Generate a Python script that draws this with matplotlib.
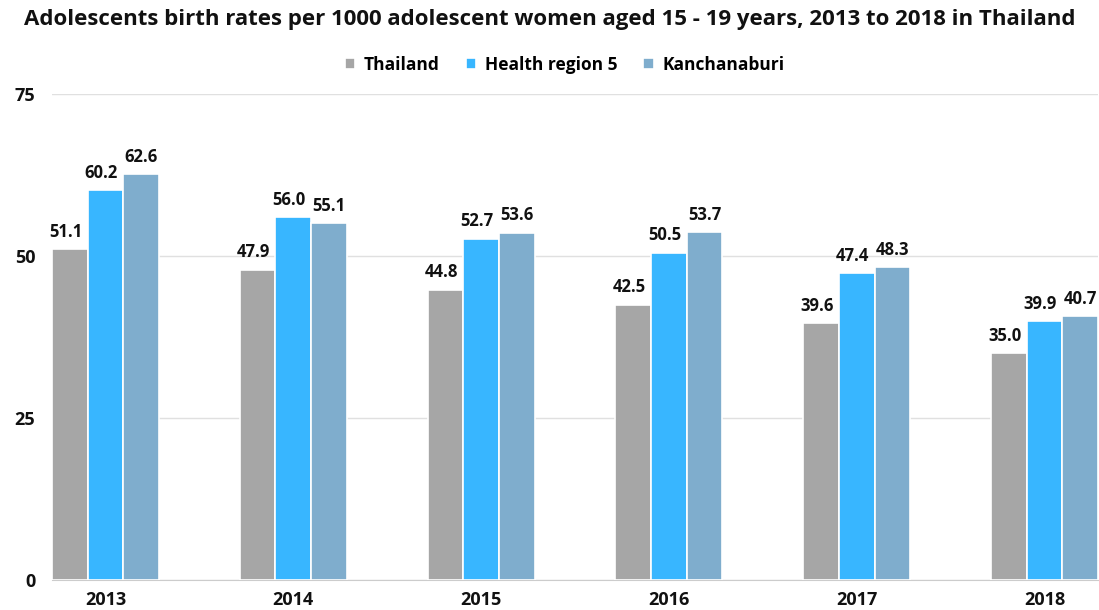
import matplotlib.pyplot as plt
import numpy as np

years = ['2013', '2014', '2015', '2016', '2017', '2018']
thailand = [51.1, 47.9, 44.8, 42.5, 39.6, 35.0]
region5 = [60.2, 56.0, 52.7, 50.5, 47.4, 39.9]
kanchanaburi = [62.6, 55.1, 53.6, 53.7, 48.3, 40.7]

series = [('Thailand', thailand, '#a6a6a6'),
          ('Health region 5', region5, '#38b6ff'),
          ('Kanchanaburi', kanchanaburi, '#7fadcd')]
# small horizontal nudge (points) of value labels so neighbours don't collide
nudge = [-3, -3, 0]

plt.rcParams['font.family'] = ['Open Sans', 'DejaVu Sans']

fig = plt.figure(figsize=(10.99, 6.10), dpi=100)
ax = fig.add_axes([52 / 1099, 1 - 580 / 610, 1046 / 1099, 486 / 610])

x = np.arange(len(years))
w = 0.19
for i, (name, vals, col) in enumerate(series):
    pos = x + (i - 1) * w
    bars = ax.bar(pos, vals, w, color=col, edgecolor='white', linewidth=1.2, label=name, zorder=3)
    for b, v in zip(bars, vals):
        ax.annotate(f'{v:.1f}', (b.get_x() + b.get_width() / 2, v), xytext=(nudge[i], 6),
                    textcoords='offset points', ha='center', va='bottom',
                    fontsize=12, fontweight='bold', color='#111111')

ax.set_xlim(-1.5 * w, len(years) - 1 + 1.5 * w)
ax.set_ylim(0, 75)
ax.set_yticks([0, 25, 50, 75])
ax.set_xticks(x)
ax.set_xticklabels(years)
ax.tick_params(axis='both', length=0, labelsize=13, colors='#111111')
ax.tick_params(axis='y', pad=12)
ax.tick_params(axis='x', pad=8)
for lab in ax.get_xticklabels() + ax.get_yticklabels():
    lab.set_fontweight('bold')
ax.grid(axis='y', color='#e0e0e0', linewidth=1, zorder=0)
for s in ['top', 'right', 'left']:
    ax.spines[s].set_visible(False)
ax.spines['bottom'].set_color('#cccccc')

fig.suptitle('Adolescents birth rates per 1000 adolescent women aged 15 - 19 years, 2013 to 2018 in Thailand',
             x=0.5, y=0.985, fontsize=16, fontweight='bold', color='#111111')
ax.legend(loc='lower center', bbox_to_anchor=(0.49, 1.01), ncol=3, frameon=False,
          prop={'size': 12.5, 'weight': 'bold'}, handlelength=0.6, handleheight=0.6,
          handletextpad=0.5, columnspacing=1.5)

fig.savefig('out.png', dpi=100)
